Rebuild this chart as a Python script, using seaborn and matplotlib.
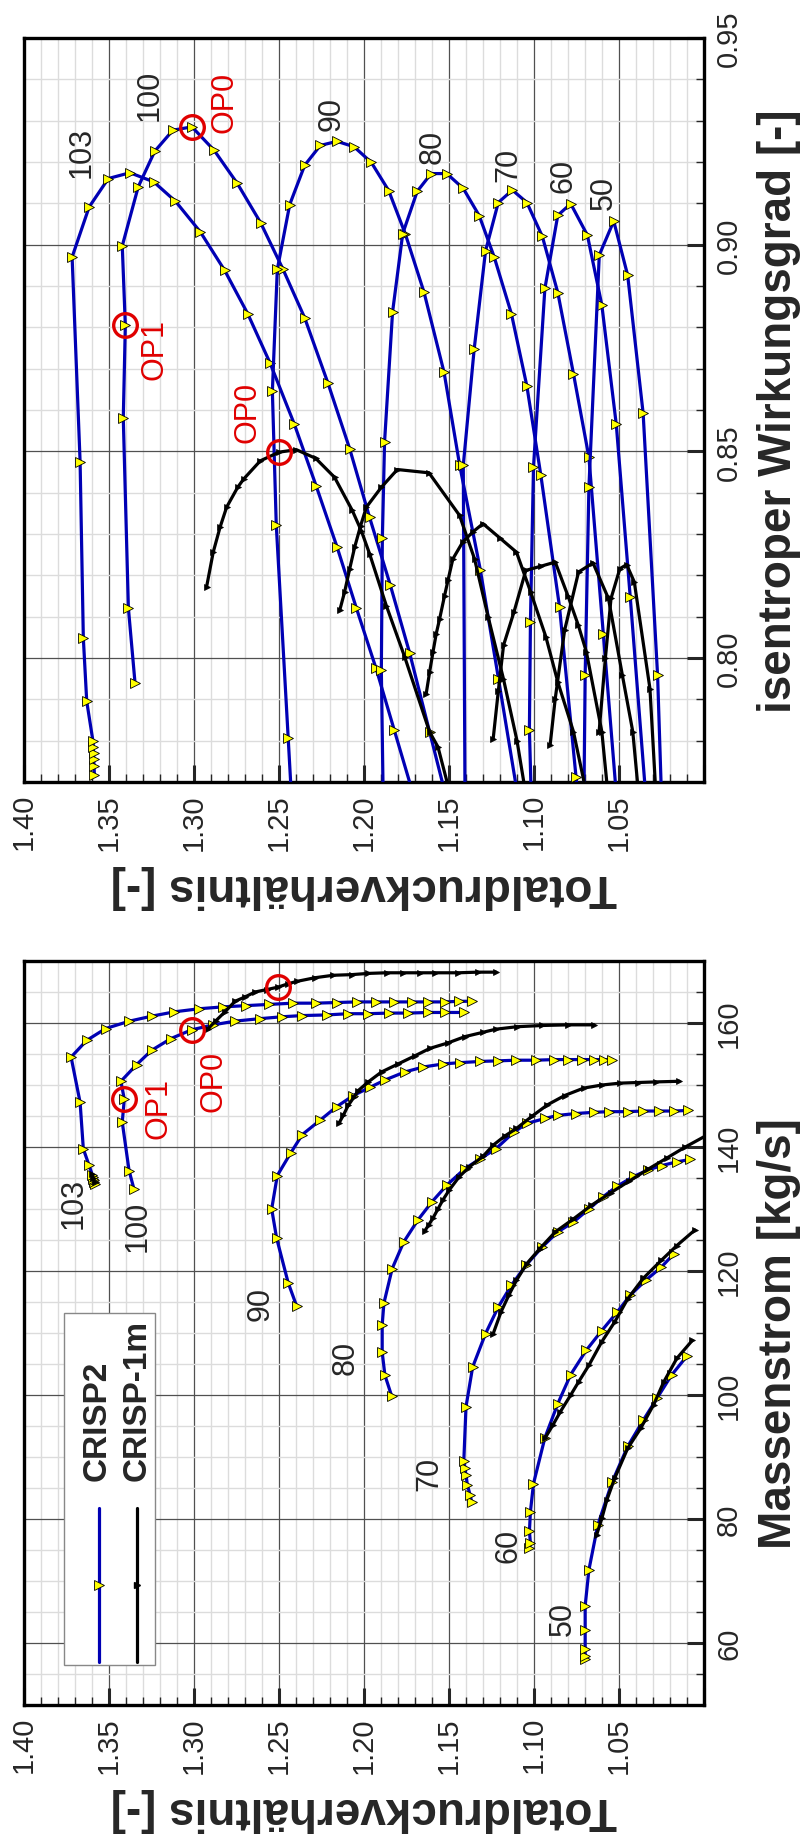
import matplotlib
matplotlib.use("Agg")
import matplotlib.pyplot as plt
from matplotlib.ticker import MultipleLocator, FuncFormatter
from matplotlib.patches import Rectangle
import seaborn as sns

sns.set_style("white")
plt.rcParams['font.family'] = ['Liberation Sans', 'DejaVu Sans']

# ---------------- data: mass flow map (pressure ratio vs mass flow) ----------------
# CRISP2 (blue)
c2_103_pr = [1.3583, 1.3586, 1.3589, 1.3592, 1.3595, 1.3598, 1.3618, 1.3651, 1.3670, 1.3723,
             1.3631, 1.3520, 1.3380, 1.3249, 1.3116, 1.2969, 1.2830, 1.2694, 1.2559, 1.2416,
             1.2285, 1.2161, 1.2044, 1.1932, 1.1822, 1.1720, 1.1626, 1.1524, 1.1440, 1.1362]
c2_103_m = [134.0, 134.3, 134.6, 134.9, 135.2, 135.5, 137.1, 139.7, 147.2, 154.5,
            157.2, 159.1, 160.3, 161.1, 161.8, 162.3, 162.6, 162.8, 163.0, 163.2,
            163.2, 163.3, 163.4, 163.4, 163.4, 163.4, 163.4, 163.4, 163.5, 163.5]
c2_100_pr = [1.3353, 1.3382, 1.3422, 1.3410, 1.3430, 1.3337, 1.3249, 1.3135, 1.3014, 1.2887, 1.2759,
             1.2612, 1.2485, 1.2363, 1.2220, 1.2093, 1.1975, 1.1854, 1.1740, 1.1622, 1.1524, 1.1413]
c2_100_m = [133.2, 136.2, 144.0, 147.7, 150.6, 153.3, 155.6, 157.5, 158.9, 159.7, 160.3,
            160.7, 161.0, 161.2, 161.3, 161.5, 161.5, 161.6, 161.6, 161.7, 161.7, 161.7]
c2_90_pr = [1.2397, 1.2446, 1.2514, 1.2543, 1.2510, 1.2432, 1.2363, 1.2259, 1.2161, 1.2063, 1.1967,
            1.1877, 1.1760, 1.1652, 1.1534, 1.1437, 1.1316, 1.1209, 1.1103, 1.0990, 1.0880,
            1.0800, 1.0720, 1.0650, 1.0590, 1.0540]
c2_90_m = [114.4, 118.1, 125.3, 130.0, 135.4, 139.0, 142.0, 144.3, 146.5, 148.3, 149.6,
           150.8, 152.1, 152.9, 153.4, 153.6, 153.8, 153.9, 154.0, 154.0, 154.1,
           154.1, 154.1, 154.1, 154.1, 154.1]
c2_80_pr = [1.1838, 1.1877, 1.1893, 1.1893, 1.1883, 1.1834, 1.1766, 1.1681, 1.1599, 1.1511, 1.1407,
            1.1316, 1.1225, 1.1118, 1.1042, 1.0936, 1.0860, 1.0753, 1.0647, 1.0556, 1.0450,
            1.0358, 1.0267, 1.0176, 1.0094]
c2_80_m = [99.9, 103.2, 106.9, 111.3, 114.8, 120.4, 124.7, 128.3, 131.2, 133.9, 136.5,
           138.1, 139.7, 142.4, 143.8, 144.6, 145.1, 145.4, 145.6, 145.7, 145.7,
           145.8, 145.8, 145.8, 145.9]
c2_70_pr = [1.1367, 1.1376, 1.1392, 1.1400, 1.1407, 1.1413, 1.1400, 1.1361, 1.1285, 1.1210, 1.1133,
            1.1048, 1.0951, 1.0860, 1.0768, 1.0677, 1.0592, 1.0510, 1.0410, 1.0328, 1.0250,
            1.0160, 1.0080]
c2_70_m = [82.8, 83.9, 85.5, 87.1, 88.3, 89.3, 98.1, 104.5, 109.9, 114.2, 117.7,
           120.9, 123.9, 126.3, 127.9, 130.0, 132.0, 133.7, 135.3, 136.3, 137.0,
           137.6, 138.0]
c2_60_pr = [1.1027, 1.1021, 1.1027, 1.1021, 1.1003, 1.0936, 1.0860, 1.0784, 1.0693, 1.0601,
            1.0510, 1.0434, 1.0343, 1.0252, 1.0176]
c2_60_m = [75.3, 76.1, 78.0, 81.2, 85.7, 93.1, 98.6, 103.3, 107.2, 110.4,
           113.4, 116.1, 118.5, 120.6, 122.8]
c2_50_pr = [1.0699, 1.0699, 1.0699, 1.0699, 1.0699, 1.0677, 1.0625, 1.0540, 1.0449, 1.0358,
            1.0276, 1.0191, 1.0100]
c2_50_m = [57.5, 57.9, 59.1, 62.1, 66.0, 71.8, 79.0, 86.0, 91.7, 95.9, 99.5, 103.2, 106.3]

# CRISP-1m (black)
c1_103_pr = [1.3600, 1.3592, 1.3585]
c1_103_m = [135.6, 135.0, 134.4]
c1_100_pr = [1.2916, 1.2870, 1.2818, 1.2759, 1.2700, 1.2641, 1.2570, 1.2504, 1.2450, 1.2397, 1.2289,
             1.2181, 1.2073, 1.1975, 1.1867, 1.1769, 1.1670, 1.1583, 1.1446, 1.1330, 1.1225]
c1_100_m = [159.1, 160.4, 161.8, 163.5, 164.2, 165.0, 165.4, 165.8, 166.3, 166.7, 167.3,
            167.7, 167.8, 168.0, 168.1, 168.1, 168.1, 168.1, 168.1, 168.2, 168.2]
c1_90_pr = [1.2148, 1.2122, 1.2093, 1.2060, 1.2034, 1.1975, 1.1897, 1.1799, 1.1701, 1.1613,
            1.1505, 1.1407, 1.1300, 1.1225, 1.1100, 1.0951, 1.0800, 1.0647]
c1_90_m = [143.8, 145.1, 146.7, 148.0, 149.1, 150.5, 152.1, 153.4, 154.7, 155.9,
           156.8, 157.8, 158.5, 159.0, 159.4, 159.6, 159.7, 159.7]
c1_80_pr = [1.1642, 1.1620, 1.1595, 1.1565, 1.1535, 1.1500, 1.1440, 1.1380, 1.1300, 1.1240, 1.1170,
            1.1103, 1.1010, 1.0921, 1.0820, 1.0708, 1.0600, 1.0495, 1.0390, 1.0282, 1.0145]
c1_80_m = [126.5, 127.4, 128.5, 130.0, 131.5, 133.0, 135.2, 136.8, 138.5, 140.3, 141.8,
           143.0, 145.0, 146.8, 148.3, 149.5, 150.0, 150.3, 150.4, 150.5, 150.6]
c1_70_pr = [1.1240, 1.1194, 1.1148, 1.1103, 1.1042, 1.0966, 1.0875, 1.0768, 1.0662, 1.0550,
            1.0440, 1.0330, 1.0220, 1.0110, 0.9990]
c1_70_m = [109.9, 113.4, 116.1, 118.5, 121.2, 123.6, 126.3, 128.4, 130.6, 132.6,
           134.5, 136.4, 138.2, 140.0, 141.8]
c1_60_pr = [1.0936, 1.0890, 1.0845, 1.0784, 1.0738, 1.0677, 1.0601, 1.0525, 1.0449, 1.0358,
            1.0252, 1.0160, 1.0054]
c1_60_m = [93.0, 95.1, 97.3, 100.0, 102.1, 104.8, 108.6, 111.8, 115.5, 118.8, 121.7, 124.1, 126.6]
c1_50_pr = [1.0632, 1.0601, 1.0571, 1.0525, 1.0449, 1.0373, 1.0297, 1.0237, 1.0160, 1.0069]
c1_50_m = [77.4, 80.1, 83.1, 86.6, 91.4, 94.6, 98.4, 102.1, 105.9, 108.8]

# ---------------- data: efficiency vs pressure ratio ----------------
c2_103_pre = [1.3586, 1.3588, 1.3590, 1.3591, 1.3592, 1.3594, 1.3631, 1.3651, 1.3670, 1.3717,
              1.3617, 1.3504, 1.3377, 1.3237, 1.3109, 1.2963, 1.2820, 1.2684, 1.2553, 1.2410,
              1.2282, 1.2158, 1.2045, 1.1930, 1.1823, 1.1660]
c2_103_eff = [0.7718, 0.7738, 0.7755, 0.7771, 0.7785, 0.7798, 0.7895, 0.8048, 0.8475, 0.8970,
              0.9091, 0.9160, 0.9174, 0.9152, 0.9105, 0.9031, 0.8938, 0.8833, 0.8714, 0.8566,
              0.8417, 0.8268, 0.8121, 0.7976, 0.7827, 0.7600]
c2_100_pre = [1.3347, 1.3386, 1.3416, 1.3404, 1.3422, 1.3328, 1.3231, 1.3124, 1.3012, 1.2881, 1.2745,
              1.2608, 1.2477, 1.2349, 1.2212, 1.2084, 1.1967, 1.1845, 1.1732, 1.1614, 1.1478]
c2_100_eff = [0.7940, 0.8121, 0.8580, 0.8805, 0.8997, 0.9140, 0.9226, 0.9277, 0.9285, 0.9228, 0.9148,
              0.9053, 0.8941, 0.8823, 0.8665, 0.8506, 0.8340, 0.8176, 0.8013, 0.7821, 0.7600]
c2_90_pre = [1.2418, 1.2446, 1.2516, 1.2539, 1.2510, 1.2437, 1.2349, 1.2257, 1.2159, 1.2059,
             1.1957, 1.1855, 1.1757, 1.1647, 1.1529, 1.1437, 1.1316, 1.1209, 1.1069]
c2_90_eff = [0.7600, 0.7807, 0.8321, 0.8645, 0.8940, 0.9097, 0.9192, 0.9240, 0.9250, 0.9237,
             0.9199, 0.9131, 0.9026, 0.8885, 0.8691, 0.8466, 0.8214, 0.7950, 0.7600]
c2_80_pre = [1.1885, 1.1898, 1.1892, 1.1879, 1.1832, 1.1772, 1.1687, 1.1605, 1.1513, 1.1416,
             1.1322, 1.1234, 1.1133, 1.1042, 1.0960, 1.0850, 1.0753, 1.0727]
c2_80_eff = [0.7600, 0.7970, 0.8290, 0.8523, 0.8837, 0.9027, 0.9129, 0.9172, 0.9172, 0.9136,
             0.9070, 0.8970, 0.8833, 0.8658, 0.8443, 0.8124, 0.7713, 0.7600]
c2_70_pre = [1.1405, 1.1416, 1.1352, 1.1285, 1.1210, 1.1127, 1.1042, 1.0951, 1.0860, 1.0768,
             1.0677, 1.0592, 1.0502]
c2_70_eff = [0.7600, 0.8466, 0.8747, 0.8985, 0.9102, 0.9132, 0.9102, 0.9020, 0.8884, 0.8688,
             0.8486, 0.8057, 0.7600]
c2_60_pre = [1.1012, 1.1027, 1.1021, 1.1003, 1.0936, 1.0860, 1.0784, 1.0686, 1.0601, 1.0516,
             1.0434, 1.0330]
c2_60_eff = [0.7600, 0.7826, 0.8086, 0.8462, 0.8894, 0.9071, 0.9099, 0.9023, 0.8854, 0.8565,
             0.8148, 0.7600]
c2_50_pre = [1.0708, 1.0699, 1.0677, 1.0616, 1.0531, 1.0449, 1.0358, 1.0273, 1.0245]
c2_50_eff = [0.7600, 0.7960, 0.8413, 0.8975, 0.9057, 0.8926, 0.8592, 0.7958, 0.7600]

c1_100_pre = [1.2926, 1.2887, 1.2847, 1.2808, 1.2743, 1.2708, 1.2610, 1.2500, 1.2398, 1.2284,
              1.2173, 1.2069, 1.2016, 1.1967, 1.1869, 1.1761, 1.1614, 1.1565, 1.1480]
c1_100_eff = [0.8172, 0.8256, 0.8316, 0.8365, 0.8413, 0.8433, 0.8477, 0.8498, 0.8504, 0.8483,
              0.8437, 0.8357, 0.8308, 0.8252, 0.8127, 0.8003, 0.7821, 0.7785, 0.7650]
c1_90_pre = [1.2143, 1.2114, 1.2084, 1.2055, 1.2020, 1.1986, 1.1898, 1.1804, 1.1618, 1.1438,
             1.1350, 1.1270, 1.1180, 1.1100, 1.1040]
c1_90_eff = [0.8115, 0.8160, 0.8216, 0.8268, 0.8320, 0.8365, 0.8413, 0.8456, 0.8448, 0.8345,
             0.8240, 0.8100, 0.7950, 0.7800, 0.7650]
c1_80_pre = [1.1634, 1.1614, 1.1594, 1.1575, 1.1555, 1.1526, 1.1506, 1.1477, 1.1420, 1.1360,
             1.1300, 1.1200, 1.1103, 1.1020, 1.0930, 1.0860, 1.0768, 1.0680]
c1_80_eff = [0.7914, 0.7966, 0.8015, 0.8059, 0.8095, 0.8151, 0.8188, 0.8240, 0.8280, 0.8305,
             0.8325, 0.8290, 0.8256, 0.8160, 0.8051, 0.7942, 0.7822, 0.7650]
c1_70_pre = [1.1240, 1.1210, 1.1179, 1.1118, 1.1048, 1.0960, 1.0875, 1.0800, 1.0740, 1.0692,
             1.0601, 1.0560]
c1_70_eff = [0.7805, 0.7920, 0.8031, 0.8111, 0.8212, 0.8222, 0.8232, 0.8150, 0.8080, 0.8015,
             0.7822, 0.7650]
c1_60_pre = [1.0905, 1.0875, 1.0820, 1.0738, 1.0653, 1.0562, 1.0480, 1.0419, 1.0380]
c1_60_eff = [0.7790, 0.7902, 0.8067, 0.8208, 0.8230, 0.8144, 0.7958, 0.7822, 0.7650]
c1_50_pre = [1.0617, 1.0580, 1.0547, 1.0495, 1.0455, 1.0410, 1.0318, 1.0280]
c1_50_eff = [0.7822, 0.8000, 0.8144, 0.8216, 0.8226, 0.8184, 0.7926, 0.7650]

# operating points
op_names = ["OP1", "OP0", "OP0"]
op_pr_m = [1.3410, 1.3014, 1.2504]
op_m = [147.7, 158.9, 165.8]
op_pr_e = [1.3404, 1.3012, 1.2500]
op_eff = [0.8805, 0.9285, 0.8498]

# speed line labels
speeds = ["103", "100", "90", "80", "70", "60", "50"]
lab_pr_m = [1.3706, 1.3333, 1.2608, 1.2108, 1.1618, 1.1149, 1.0829]
lab_m = [131.1, 127.3, 114.9, 106.1, 87.4, 75.8, 64.0]
lab_pr_e = [1.3661, 1.3259, 1.2192, 1.1595, 1.1149, 1.0829, 1.0592]
lab_eff = [0.9226, 0.9363, 0.9318, 0.9238, 0.9196, 0.9168, 0.9128]

BLUE = "#0000b4"
RED = "#e00000"

fig = plt.figure(figsize=(8.11, 18.49), dpi=100)
ax_e = fig.add_axes([24 / 811, 1 - 783 / 1849, 680 / 811, 744 / 1849])
ax_m = fig.add_axes([24 / 811, 1 - 1706 / 1849, 680 / 811, 744 / 1849])

blue_kw = dict(color=BLUE, lw=2.3, marker=">", ms=7.5, mfc="#ffff00", mec="black", mew=0.6,
               sort=False, estimator=None, legend=False, zorder=3)
black_kw = dict(color="black", lw=2.3, marker=">", ms=4.5, mfc="black", mec="black", mew=0.5,
                sort=False, estimator=None, legend=False, zorder=4)

blue_m = [(c2_103_pr, c2_103_m), (c2_100_pr, c2_100_m), (c2_90_pr, c2_90_m), (c2_80_pr, c2_80_m),
          (c2_70_pr, c2_70_m), (c2_60_pr, c2_60_m), (c2_50_pr, c2_50_m)]
black_m = [(c1_103_pr, c1_103_m), (c1_100_pr, c1_100_m), (c1_90_pr, c1_90_m), (c1_80_pr, c1_80_m),
           (c1_70_pr, c1_70_m), (c1_60_pr, c1_60_m), (c1_50_pr, c1_50_m)]
blue_e = [(c2_103_pre, c2_103_eff), (c2_100_pre, c2_100_eff), (c2_90_pre, c2_90_eff),
          (c2_80_pre, c2_80_eff), (c2_70_pre, c2_70_eff), (c2_60_pre, c2_60_eff),
          (c2_50_pre, c2_50_eff)]
black_e = [(c1_100_pre, c1_100_eff), (c1_90_pre, c1_90_eff), (c1_80_pre, c1_80_eff),
           (c1_70_pre, c1_70_eff), (c1_60_pre, c1_60_eff), (c1_50_pre, c1_50_eff)]

for x, y in blue_m:
    sns.lineplot(x=x, y=y, ax=ax_m, **blue_kw)
for x, y in black_m:
    sns.lineplot(x=x, y=y, ax=ax_m, **black_kw)
for x, y in blue_e:
    sns.lineplot(x=x, y=y, ax=ax_e, **blue_kw)
for x, y in black_e:
    sns.lineplot(x=x, y=y, ax=ax_e, **black_kw)

# operating point circles
ax_m.plot(op_pr_m, op_m, ls="none", marker="o", ms=17, mfc="none", mec=RED, mew=2.4, zorder=5)
ax_e.plot(op_pr_e, op_eff, ls="none", marker="o", ms=17, mfc="none", mec=RED, mew=2.4, zorder=5)

txt = dict(rotation=90, ha="center", va="center", fontsize=22, zorder=6)
for s, x, y in zip(speeds, lab_pr_m, lab_m):
    ax_m.text(x, y, s, **txt)
for s, x, y in zip(speeds, lab_pr_e, lab_eff):
    ax_e.text(x, y, s, **txt)

ax_m.text(1.3210, 146.3, "OP1", color=RED, **txt)
ax_m.text(1.2887, 150.8, "OP0", color=RED, **txt)
ax_e.text(1.2818, 0.9347, "OP0", color=RED, **txt)
ax_e.text(1.3230, 0.8750, "OP1", color=RED, **txt)
ax_e.text(1.2684, 0.8597, "OP0", color=RED, **txt)

# legend box (rotated like the rest of the figure)
ax_m.add_patch(Rectangle((1.3232, 56.5), 1.3762 - 1.3232, 113.2 - 56.5, facecolor="white",
                         edgecolor="#888888", lw=1.0, zorder=6))
ax_m.plot([1.3556, 1.3556], [57.0, 81.8], color=BLUE, lw=2.3, zorder=7)
ax_m.plot([1.3556], [69.4], ls="none", marker=">", ms=7.5, mfc="#ffff00", mec="black", mew=0.6, zorder=8)
ax_m.plot([1.3337, 1.3337], [57.0, 81.8], color="black", lw=2.3, zorder=7)
ax_m.plot([1.3337], [69.4], ls="none", marker=">", ms=4.5, color="black", zorder=8)
ax_m.text(1.3571, 86.3, "CRISP2", rotation=90, ha="center", va="bottom", fontsize=24,
          fontweight="bold", zorder=8)
ax_m.text(1.3337, 86.3, "CRISP-1m", rotation=90, ha="center", va="bottom", fontsize=24,
          fontweight="bold", zorder=8)

pr_fmt = FuncFormatter(lambda v, p: "" if v < 1.025 else f"{v:.2f}")

for ax in (ax_e, ax_m):
    ax.set_xlim(1.40, 1.00)
    ax.xaxis.set_major_locator(MultipleLocator(0.05))
    ax.xaxis.set_minor_locator(MultipleLocator(0.01))
    ax.xaxis.set_major_formatter(pr_fmt)
    ax.set_axisbelow(True)
    ax.grid(which="minor", color="#dcdcdc", lw=1.0)
    ax.grid(which="major", color="#505050", lw=0.9)
    for sp in ax.spines.values():
        sp.set_linewidth(2.4)
        sp.set_color("black")
    ax.tick_params(which="both", direction="in", bottom=True, top=False, left=False, right=True,
                   labelbottom=True, labelleft=False, labelright=True, labelsize=21,
                   labelrotation=90, pad=8)
    ax.tick_params(which="major", length=12, width=2.2)
    ax.tick_params(which="minor", length=6, width=1.0)
    ax.yaxis.set_label_position("right")
    ax.set_xlabel("Totaldruckverhältnis [-]", fontsize=33, fontweight="bold", rotation=180,
                  labelpad=10)

ax_e.set_ylim(0.77, 0.95)
ax_e.yaxis.set_major_locator(MultipleLocator(0.05))
ax_e.yaxis.set_minor_locator(MultipleLocator(0.01))
ax_e.yaxis.set_major_formatter(FuncFormatter(lambda v, p: f"{v:.2f}"))
ax_e.set_ylabel("isentroper Wirkungsgrad [-]", fontsize=33, fontweight="bold", rotation=90,
                labelpad=10)

ax_m.set_ylim(50, 170)
ax_m.yaxis.set_major_locator(MultipleLocator(20))
ax_m.yaxis.set_minor_locator(MultipleLocator(5))
ax_m.yaxis.set_major_formatter(FuncFormatter(lambda v, p: f"{v:.0f}"))
ax_m.set_ylabel("Massenstrom [kg/s]", fontsize=33, fontweight="bold", rotation=90, labelpad=10)

for ax in (ax_e, ax_m):
    for lbl in ax.get_yticklabels():
        lbl.set_va("center")

fig.savefig("out.png", dpi=100)
